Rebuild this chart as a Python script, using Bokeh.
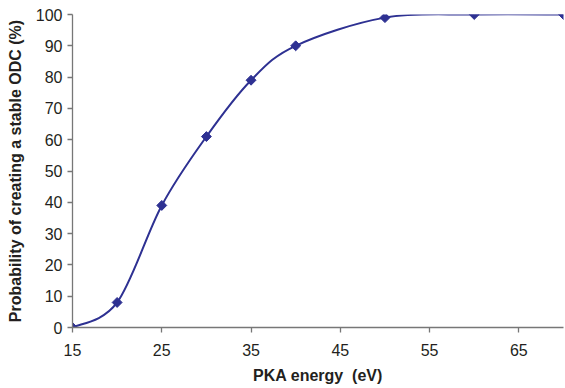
import numpy as np
from bokeh.plotting import figure
from bokeh.models import FixedTicker, Range1d
from bokeh.embed import file_html
from bokeh.resources import INLINE

# Data
energy = [15, 20, 25, 30, 35, 40, 50, 60, 70]
probability = [0, 8, 39, 61, 79, 90, 99, 100, 100]
x_ticks = [15, 25, 35, 45, 55, 65]
y_ticks = [0, 10, 20, 30, 40, 50, 60, 70, 80, 90, 100]

LINE = "#2E3192"
AXIS = "#777777"
TEXT = "#231F20"
FONT = "Liberation Sans"

p = figure(width=565, height=388, output_backend="svg", toolbar_location=None,
           x_range=Range1d(15, 70), y_range=Range1d(0, 100),
           min_border_left=72, min_border_right=2, min_border_top=14, min_border_bottom=61)
p.outline_line_color = None
p.xgrid.visible = False
p.ygrid.visible = False

# Smoothed line (Catmull-Rom style Bezier segments between the data points)
xs = np.array(energy, dtype=float)
ys = np.array(probability, dtype=float)
xp = np.concatenate([[xs[0]], xs, [xs[-1]]])
yp = np.concatenate([[ys[0]], ys, [ys[-1]]])
n = len(xs)
x0 = xs[:-1]; y0 = ys[:-1]; x1 = xs[1:]; y1 = ys[1:]
cx0 = xs[:-1] + (xp[2:n + 1] - xp[0:n - 1]) / 6.0
cy0 = ys[:-1] + (yp[2:n + 1] - yp[0:n - 1]) / 6.0
cx1 = xs[1:] - (xp[3:n + 2] - xp[1:n]) / 6.0
cy1 = ys[1:] - (yp[3:n + 2] - yp[1:n]) / 6.0
p.bezier(x0=x0, y0=y0, x1=x1, y1=y1, cx0=cx0, cy0=cy0, cx1=cx1, cy1=cy1,
         line_color=LINE, line_width=2)

p.scatter(energy, probability, marker="square", size=7, angle=np.pi / 4,
          fill_color=LINE, line_color=LINE)

for ax in (p.xaxis[0], p.yaxis[0]):
    ax.axis_line_color = AXIS
    ax.axis_line_width = 1.3
    ax.major_tick_line_color = AXIS
    ax.major_tick_line_width = 1.3
    ax.major_tick_out = 5
    ax.major_tick_in = 0
    ax.minor_tick_line_color = None
    ax.major_label_text_font = FONT
    ax.major_label_text_font_size = "16px"
    ax.major_label_text_color = TEXT
    ax.axis_label_text_font = FONT
    ax.axis_label_text_font_size = "16px"
    ax.axis_label_text_font_style = "bold"
    ax.axis_label_text_color = TEXT

p.xaxis.ticker = FixedTicker(ticks=x_ticks)
p.yaxis.ticker = FixedTicker(ticks=y_ticks)
p.xaxis.major_label_standoff = 11
p.yaxis.major_label_standoff = 5
p.xaxis.axis_label = "PKA energy\u00a0 (eV)"
p.yaxis.axis_label = "Probability of creating a stable ODC (%)"
p.xaxis.axis_label_standoff = 8
p.yaxis.axis_label_standoff = 9

open("out.html", "w").write(file_html(p, INLINE))
